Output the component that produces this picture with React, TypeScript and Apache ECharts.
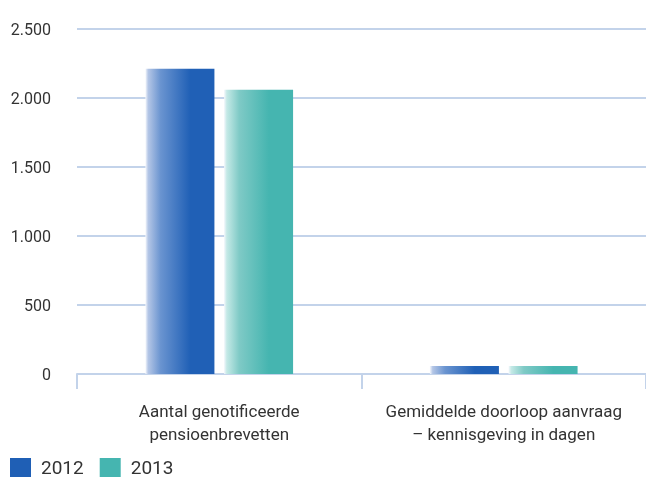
import React, { useEffect, useRef } from "react";
import * as echarts from "echarts";

const categories = ["Aantal genotificeerde\npensioenbrevetten", "Gemiddelde doorloop aanvraag\n– kennisgeving in dagen"];
const values2012 = [2212, 58];
const values2013 = [2060, 58];
const seriesNames = ["2012", "2013"];

const fmt = (v: number) => String(v).replace(/\B(?=(\d{3})+(?!\d))/g, ".");

const grad = (light: string, mid: string, dark: string) =>
  new echarts.graphic.LinearGradient(0, 0, 1, 0, [
    { offset: 0, color: "#f4f7fc" },
    { offset: 0.04, color: light },
    { offset: 0.22, color: mid },
    { offset: 0.65, color: dark },
    { offset: 1, color: dark },
  ]);

export default function App() {
  const ref = useRef<HTMLDivElement>(null);
  useEffect(() => {
    const chart = echarts.init(ref.current!, null, { renderer: "svg" });
    chart.setOption({
      animation: false,
      textStyle: { fontFamily: "Roboto" },
      grid: { left: 77, right: 0, top: 29, bottom: 107, containLabel: false },
      legend: {
        left: 10,
        top: 458,
        padding: 0,
        itemWidth: 21,
        itemHeight: 19,
        itemGap: 16,
        icon: "rect",
        textStyle: { fontSize: 19, color: "#333", fontFamily: "Roboto", padding: [2, 0, 0, 5] },
        data: [
          { name: seriesNames[0], itemStyle: { color: "#1f5fb5" } },
          { name: seriesNames[1], itemStyle: { color: "#45b5b0" } },
        ],
      },
      xAxis: {
        type: "category",
        data: categories,
        axisLine: { lineStyle: { color: "#c3d3ea", width: 2 } },
        axisTick: { show: true, length: 15, lineStyle: { color: "#c3d3ea", width: 2 } },
        axisLabel: { interval: 0, color: "#333", fontSize: 17, lineHeight: 23, margin: 25, fontFamily: "Roboto" },
      },
      yAxis: {
        type: "value",
        min: 0,
        max: 2500,
        interval: 500,
        axisLine: { show: false },
        axisTick: { show: false },
        splitLine: { lineStyle: { color: "#c3d3ea", width: 2 } },
        axisLabel: { color: "#333", fontSize: 16, margin: 26, formatter: (v: number) => fmt(v) },
      },
      series: [
        {
          name: seriesNames[0],
          type: "bar",
          data: values2012,
          barWidth: 69,
          barGap: "14%",
          itemStyle: { color: grad("#b4c6e6", "#6a94d0", "#2060b6") },
        },
        {
          name: seriesNames[1],
          type: "bar",
          data: values2013,
          barWidth: 69,
          itemStyle: { color: grad("#c4e9e6", "#7fcac6", "#45b5b0") },
        },
      ],
    });
    return () => chart.dispose();
  }, []);
  return <div ref={ref} style={{ position: "fixed", left: 0, top: 0, width: 646, height: 481 }} />;
}
